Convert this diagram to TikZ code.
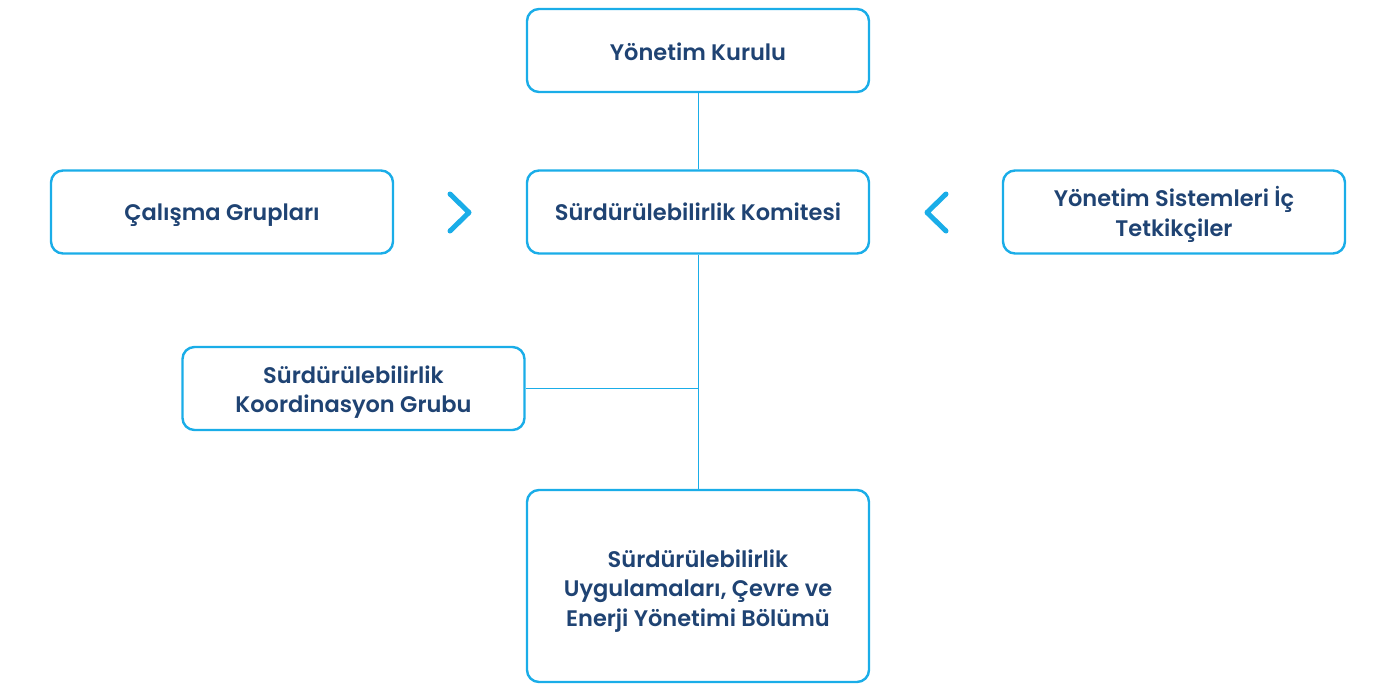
\documentclass[tikz,border=0pt]{standalone}
\usepackage{fontspec}
\setmainfont{Poppins}[BoldFont={Poppins SemiBold}]
\definecolor{cyanline}{HTML}{1AADE8}
\definecolor{navytext}{HTML}{1F4373}
\newcommand\boxtext[2][-3.5pt]{\raisebox{#1}[\height][\depth]{\begin{tabular}{@{}c@{}}#2\end{tabular}}}
\begin{document}
\begin{tikzpicture}[x=1pt,y=-1pt,
  box/.style={draw=cyanline, line width=2.4pt, rounded corners=12pt, fill=white,
    minimum width=342pt, minimum height=83pt, inner sep=0pt, align=center,
    text=navytext, font=\bfseries\fontsize{22.5pt}{29.5pt}\selectfont},
  link/.style={draw=cyanline, line width=1pt},
  chev/.style={draw=cyanline, line width=5pt, line cap=round, line join=round}]
\useasboundingbox (0,0) rectangle (1377,685);
\node[box] (kurul) at (698,50.5) {\boxtext[-4pt]{Yönetim Kurulu}};
\node[box] (komite) at (698,212) {\boxtext[-3pt]{Sürdürülebilirlik Komitesi}};
\node[box] (calisma) at (222,212) {\boxtext[-3pt]{Çalışma Grupları}};
\node[box] (tetkik) at (1174,212) {\boxtext{Yönetim Sistemleri İç\\Tetkikçiler}};
\node[box] (koord) at (353.5,388.5) {\boxtext{Sürdürülebilirlik\\Koordinasyon Grubu}};
\node[box, minimum height=192pt] (bolum) at (698,586) {\boxtext[-5pt]{Sürdürülebilirlik\\Uygulamaları, Çevre ve\\Enerji Yönetimi Bölümü}};
\coordinate (junc) at (698,388.5);
\draw[link] (kurul.south) -- (komite.north);
\draw[link] (komite.south) -- (bolum.north);
\draw[link] (koord.east) -- (junc);
\draw[chev] (450,194) -- (469,212.5) -- (450,231);
\draw[chev] (946,194) -- (927,212.5) -- (946,231);
\end{tikzpicture}
\end{document}
